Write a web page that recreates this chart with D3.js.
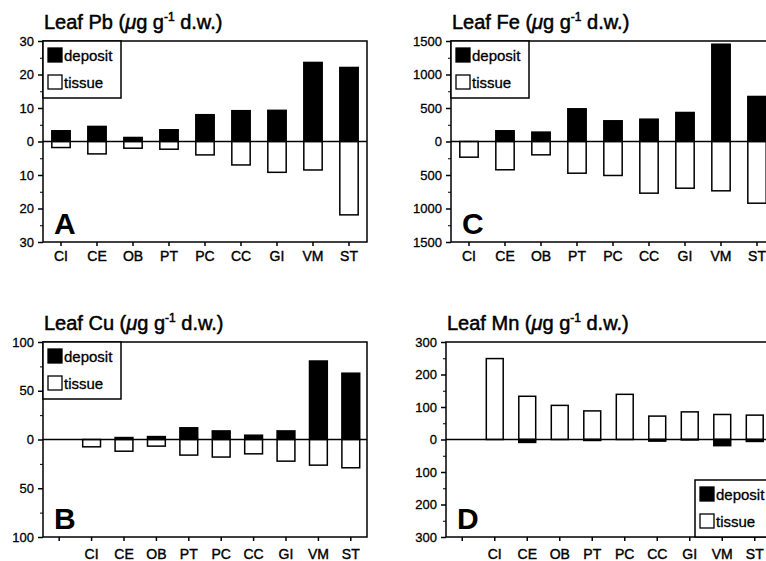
<!DOCTYPE html>
<html>
<head>
<meta charset="utf-8">
<script src="https://cdn.jsdelivr.net/npm/d3@7"></script>
<style>
  body { margin: 0; background: #fff; }
  svg { display: block; font-family: "Liberation Sans", Arial, sans-serif; }
</style>
</head>
<body>
<svg id="chart" width="766" height="561"></svg>
<script>
// categories (B and D start with one empty slot)
var categories = ['CI', 'CE', 'OB', 'PT', 'PC', 'CC', 'GI', 'VM', 'ST'];
var categoriesShifted = [''].concat(categories);

// Leaf Pb
var pbDeposit = [3.2, 4.5, 1.2, 3.5, 8.0, 9.2, 9.3, 23.6, 22.1];
var pbTissue  = [1.8, 3.7, 2.0, 2.3, 4.0, 7.0, 9.2, 8.5, 21.9];
// Leaf Fe
var feDeposit = [0, 160, 140, 488, 309, 333, 433, 1452, 672];
var feTissue  = [234, 422, 199, 473, 507, 771, 697, 736, 921];
// Leaf Cu
var cuDeposit = [0, 2, 3, 12, 8.8, 4.4, 8.8, 80.5, 68];
var cuTissue  = [7.5, 12, 6.8, 16, 18, 14.7, 22.2, 26.3, 29];
// Leaf Mn (tissue drawn upward, deposit downward)
var mnTissue  = [249, 133, 105, 88, 139, 72, 85, 77, 75];
var mnDeposit = [0, 9, 0, 3, 0, 5, 1, 19, 6];

var pbTicks = [-30, -20, -10, 0, 10, 20, 30];
var feTicks = [-1500, -1000, -500, 0, 500, 1000, 1500];
var cuTicks = [-100, -50, 0, 50, 100];
var mnTicks = [-300, -200, -100, 0, 100, 200, 300];

var legendLabels = ['deposit', 'tissue'];

var svg = d3.select('#chart');

// heavier look of the printed figure
function ink(sel, w) {
    sel.attr('fill', '#000').attr('stroke', '#000').attr('stroke-width', w);
}

function drawPanel(p) {
    var g = svg.append('g');

    var x = d3.scaleBand()
        .domain(p.cats)
        .range([p.left, p.left + p.width])
        .paddingInner(p.pad)
        .paddingOuter(p.pad / 2);

    var y = d3.scaleLinear()
        .domain([-p.max, p.max])
        .range([p.bottom, p.top]);

    // bars: up and down from zero
    var rows = categories.map(function (c, i) {
        return { cat: c, up: p.up[i], down: p.down[i] };
    });

    g.selectAll('rect.up').data(rows).enter()
        .append('rect')
        .attr('x', function (d) { return x(d.cat); })
        .attr('width', x.bandwidth())
        .attr('y', function (d) { return y(d.up); })
        .attr('height', function (d) { return y(0) - y(d.up); })
        .attr('fill', p.upFill)
        .attr('stroke', '#000')
        .attr('stroke-width', function (d) { return d.up > 0 ? 1.5 : 0; });

    g.selectAll('rect.down').data(rows).enter()
        .append('rect')
        .attr('x', function (d) { return x(d.cat); })
        .attr('width', x.bandwidth())
        .attr('y', y(0))
        .attr('height', function (d) { return y(-d.down) - y(0); })
        .attr('fill', p.downFill)
        .attr('stroke', '#000')
        .attr('stroke-width', function (d) { return d.down > 0 ? 1.5 : 0; });

    // frame
    g.append('rect')
        .attr('x', p.left).attr('y', p.top)
        .attr('width', p.width).attr('height', p.bottom - p.top)
        .attr('fill', 'none').attr('stroke', '#000').attr('stroke-width', 1.5);

    // zero line
    g.append('line')
        .attr('x1', p.left).attr('x2', p.left + p.width)
        .attr('y1', y(0)).attr('y2', y(0))
        .attr('stroke', '#000').attr('stroke-width', 1.3);

    // y axis: major + minor ticks
    var step = p.ticks[1] - p.ticks[0];
    var minor = d3.range(-p.max + step / 2, p.max, step);

    g.append('g')
        .attr('transform', 'translate(' + p.left + ',0)')
        .call(d3.axisLeft(y).tickValues(minor).tickSize(3).tickFormat(''))
        .call(function (a) { a.select('.domain').remove(); });

    var ya = g.append('g')
        .attr('transform', 'translate(' + p.left + ',0)')
        .call(d3.axisLeft(y).tickValues(p.ticks).tickSize(5).tickPadding(4)
            .tickFormat(function (v) { return Math.abs(v); }));
    ya.select('.domain').remove();
    ya.selectAll('line').attr('stroke-width', 1.5);
    ya.selectAll('text').attr('font-size', 13).call(ink, 0.3);

    // x axis
    var xa = g.append('g')
        .attr('transform', 'translate(0,' + p.bottom + ')')
        .call(d3.axisBottom(x).tickSize(4).tickPadding(p.xPad));
    xa.select('.domain').remove();
    xa.selectAll('line').attr('stroke-width', 1.5);
    xa.selectAll('text').attr('font-size', 14).call(ink, 0.4);

    // title
    var t = g.append('text')
        .attr('x', p.left + 1)
        .attr('y', p.top - 12)
        .attr('font-size', 20)
        .call(ink, 0.5);
    t.append('tspan').text('Leaf ' + p.element + ' (');
    t.append('tspan').attr('font-style', 'italic').text('\u03bc');
    t.append('tspan').text('g g');
    t.append('tspan').attr('font-size', 12).attr('dy', -8).text('-1');
    t.append('tspan').attr('dy', 8).text(' d.w.)');

    // panel letter
    g.append('text')
        .attr('x', p.left + 11)
        .attr('y', p.bottom - 8)
        .attr('font-size', 30)
        .attr('font-weight', 'bold')
        .attr('fill', '#000')
        .text(p.letter);

    // legend
    var lg = g.append('g').attr('transform', 'translate(' + p.legend[0] + ',' + p.legend[1] + ')');
    lg.append('rect')
        .attr('x', 0).attr('y', 0)
        .attr('width', p.legend[2]).attr('height', 57)
        .attr('fill', '#fff').attr('stroke', '#000').attr('stroke-width', 1.5);
    lg.selectAll('rect.key').data(legendLabels).enter()
        .append('rect')
        .attr('x', 5).attr('y', function (d, i) { return 7 + i * 27; })
        .attr('width', 14).attr('height', 14)
        .attr('fill', function (d, i) { return i === 0 ? '#000' : '#fff'; })
        .attr('stroke', '#000').attr('stroke-width', 1.3);
    lg.selectAll('text').data(legendLabels).enter()
        .append('text')
        .attr('x', 21).attr('y', function (d, i) { return 20 + i * 27; })
        .attr('font-size', 15)
        .call(ink, 0.3)
        .text(function (d) { return d; });
}

drawPanel({ element: 'Pb', letter: 'A', cats: categories, up: pbDeposit, down: pbTissue,
    upFill: '#000', downFill: '#fff', max: 30, ticks: pbTicks,
    left: 43, width: 324, top: 41, bottom: 242, pad: 0.49, xPad: 5,
    legend: [43, 41, 78] });

drawPanel({ element: 'Fe', letter: 'C', cats: categories, up: feDeposit, down: feTissue,
    upFill: '#000', downFill: '#fff', max: 1500, ticks: feTicks,
    left: 451, width: 324, top: 41, bottom: 242, pad: 0.49, xPad: 5,
    legend: [451, 41, 78] });

drawPanel({ element: 'Cu', letter: 'B', cats: categoriesShifted, up: cuDeposit, down: cuTissue,
    upFill: '#000', downFill: '#fff', max: 100, ticks: cuTicks,
    left: 43, width: 324, top: 342, bottom: 537, pad: 0.45, xPad: 8,
    legend: [43, 342, 78] });

drawPanel({ element: 'Mn', letter: 'D', cats: categoriesShifted, up: mnTissue, down: mnDeposit,
    upFill: '#fff', downFill: '#000', max: 300, ticks: mnTicks,
    left: 446, width: 325, top: 342, bottom: 537, pad: 0.48, xPad: 8,
    legend: [695, 480, 80] });
</script>
</body>
</html>
